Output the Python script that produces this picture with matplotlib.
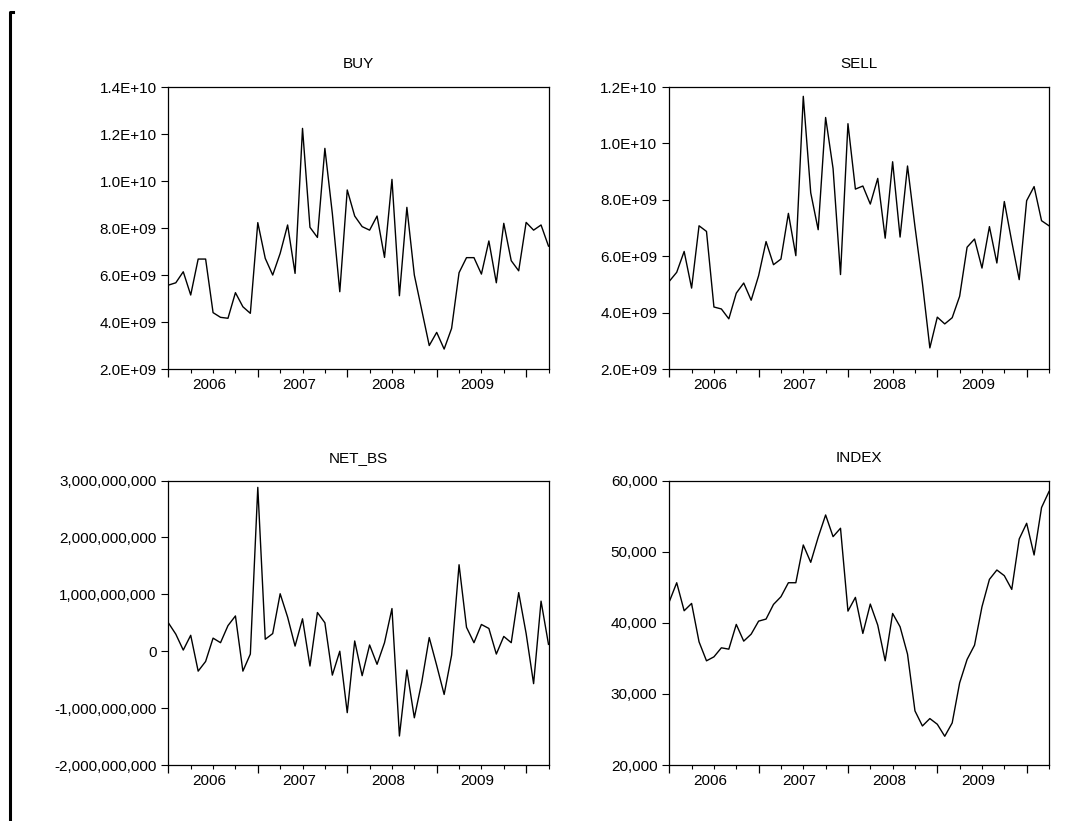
import matplotlib
matplotlib.use("Agg")
import matplotlib.pyplot as plt
from matplotlib.ticker import FuncFormatter, FixedLocator
from matplotlib.lines import Line2D
import numpy as np

plt.rcParams['font.family'] = ['Liberation Sans', 'DejaVu Sans']

# monthly observations, Jan 2006 .. Apr 2010 (values in billions for BUY/SELL/NET_BS)
buy_bn = [5.57, 5.67, 6.14, 5.15, 6.68, 6.68, 4.40, 4.20, 4.16, 5.25, 4.65, 4.37,
          8.23, 6.71, 6.00, 6.92, 8.13, 6.07, 12.24, 8.03, 7.60, 11.39, 8.62, 5.29,
          9.62, 8.51, 8.06, 7.91, 8.51, 6.75, 10.07, 5.12, 8.88, 6.00, 4.50, 3.00,
          3.56, 2.85, 3.73, 6.10, 6.74, 6.74, 6.04, 7.45, 5.67, 8.20, 6.61, 6.18,
          8.24, 7.91, 8.13, 7.23]
sell_bn = [5.11, 5.43, 6.17, 4.87, 7.08, 6.88, 4.20, 4.13, 3.78, 4.69, 5.05, 4.44,
           5.31, 6.52, 5.70, 5.90, 7.52, 6.02, 11.67, 8.25, 6.94, 10.92, 9.11, 5.35,
           10.70, 8.38, 8.49, 7.85, 8.76, 6.64, 9.35, 6.68, 9.20, 7.05, 5.04, 2.75,
           3.84, 3.60, 3.82, 4.58, 6.32, 6.61, 5.58, 7.05, 5.76, 7.94, 6.52, 5.17,
           7.97, 8.47, 7.26, 7.08]
net_bs_bn = [0.50, 0.30, 0.02, 0.28, -0.35, -0.18, 0.23, 0.15, 0.45, 0.62, -0.35, -0.05,
             2.88, 0.21, 0.31, 1.01, 0.60, 0.09, 0.57, -0.26, 0.68, 0.50, -0.42, 0.00,
             -1.08, 0.18, -0.43, 0.11, -0.23, 0.15, 0.75, -1.49, -0.33, -1.17, -0.54, 0.24,
             -0.25, -0.76, -0.07, 1.52, 0.42, 0.15, 0.47, 0.40, -0.05, 0.26, 0.15, 1.03,
             0.31, -0.57, 0.88, 0.12]
index_vals = [42960, 45630, 41690, 42720, 37320, 34650, 35210, 36480, 36290, 39770, 37420, 38400,
              40230, 40520, 42580, 43660, 45630, 45630, 50940, 48500, 52020, 55160, 52110, 53290,
              41640, 43570, 38500, 42630, 39670, 34650, 41310, 39440, 35590, 27610, 25490, 26530,
              25730, 24040, 25920, 31550, 34840, 36850, 42250, 46100, 47420, 46620, 44690, 51780,
              53990, 49530, 56200, 58450]

titles = ["BUY", "SELL", "NET_BS", "INDEX"]
year_labels = ["2006", "2007", "2008", "2009"]

sci = FuncFormatter(lambda v, p: f"{v:.1E}")
comma = FuncFormatter(lambda v, p: f"{v:,.0f}")

panels = [
    (np.array(buy_bn) * 1e9, (2e9, 1.4e10), np.arange(2e9, 1.41e10, 2e9), sci),
    (np.array(sell_bn) * 1e9, (2e9, 1.2e10), np.arange(2e9, 1.21e10, 2e9), sci),
    (np.array(net_bs_bn) * 1e9, (-2e9, 3e9), np.arange(-2e9, 3.01e9, 1e9), comma),
    (np.array(index_vals), (20000, 60000), np.arange(20000, 60001, 10000), comma),
]

# axes rectangles in figure fractions
rects = [
    [0.1553, 0.5505, 0.3507, 0.3435],
    [0.6174, 0.5505, 0.3503, 0.3435],
    [0.1553, 0.0682, 0.3507, 0.3465],
    [0.6174, 0.0682, 0.3503, 0.3465],
]

fig = plt.figure(figsize=(10.84, 8.21), dpi=100)

for (vals, ylim, yticks, fmt), rect, title in zip(panels, rects, titles):
    ax = fig.add_axes(rect)
    x = np.arange(len(vals))
    ax.plot(x, vals, color='black', linewidth=1.0)
    ax.set_xlim(0, len(vals) - 1)
    ax.set_ylim(*ylim)
    ax.set_yticks(yticks)
    ax.yaxis.set_major_formatter(fmt)
    ax.tick_params(axis='y', direction='out', length=5, width=0.8, pad=3.5,
                   labelsize=11, colors='black')

    # year boundaries (major) and quarter marks (minor), no labels
    ax.xaxis.set_major_locator(FixedLocator(np.arange(0, len(vals), 12)))
    ax.xaxis.set_minor_locator(FixedLocator(np.arange(0, len(vals), 3)))
    ax.tick_params(axis='x', which='major', direction='out', length=6, width=0.9,
                   labelbottom=False)
    ax.tick_params(axis='x', which='minor', direction='out', length=3, width=0.8)

    # year labels centred on each calendar year
    sec = ax.secondary_xaxis('bottom')
    sec.set_xticks(np.arange(len(year_labels)) * 12 + 5.5, year_labels)
    sec.tick_params(length=0, pad=6.5, labelsize=11)
    sec.spines['bottom'].set_visible(False)

    for sp in ax.spines.values():
        sp.set_linewidth(0.9)
        sp.set_color('black')
    ax.set_title(title, fontsize=11, pad=13.5)

# bracket at the left edge of the page
fig.add_artist(Line2D([13 / 1084, 10 / 1084, 10 / 1084], [1 - 12 / 821, 1 - 12 / 821, 1 - 819 / 821],
                      transform=fig.transFigure, color='black', linewidth=2.2))

fig.savefig("out.png", dpi=100)
